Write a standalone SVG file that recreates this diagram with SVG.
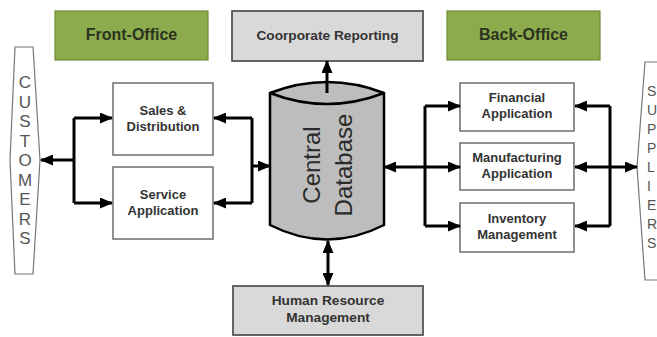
<svg xmlns="http://www.w3.org/2000/svg" width="657" height="337" viewBox="0 0 657 337">
<defs>
<marker id="ah" markerUnits="userSpaceOnUse" markerWidth="13" markerHeight="11" refX="12" refY="5.5" orient="auto-start-reverse" viewBox="0 0 13 11">
<path d="M0,0 L13,5.5 L0,11 z" fill="#000"/>
</marker>
<style>
.lbl{font-family:"Liberation Sans",Arial,sans-serif;font-weight:bold;font-size:13px;fill:#333;text-anchor:middle}
.big{font-size:13.7px}
.hdr{font-family:"Liberation Sans",Arial,sans-serif;font-weight:bold;font-size:16px;fill:#2b3320;text-anchor:middle}
.box{fill:#fff;stroke:#6e6e6e;stroke-width:1.5}
.gbox{fill:#d9d9d9;stroke:#555;stroke-width:1.8}
.green{fill:#8cab4d;stroke:#6f8c38;stroke-width:1.2}
.side{fill:#fff;stroke:#777;stroke-width:1.2}
.vt{font-family:"Liberation Sans",Arial,sans-serif;font-size:17px;fill:#555;text-anchor:middle}
.vs{font-family:"Liberation Sans",Arial,sans-serif;font-size:14px;fill:#555;text-anchor:start}
.con{fill:none;stroke:#000;stroke-width:3}
.db{font-family:"Liberation Sans",Arial,sans-serif;font-size:24px;fill:#2a2a2a;text-anchor:middle}
</style>
</defs>
<rect width="657" height="337" fill="#fff"/>

<g id="front-office">
<rect class="green" x="55" y="11" width="153" height="49"/>
<text class="hdr" x="131.5" y="40">Front-Office</text>
</g>
<g id="back-office">
<rect class="green" x="447" y="11" width="153" height="49"/>
<text class="hdr" x="523.5" y="40">Back-Office</text>
</g>
<g id="corporate-reporting">
<rect class="gbox" x="232" y="11" width="191" height="50"/>
<text class="lbl big" x="327.5" y="40">Coorporate Reporting</text>
</g>
<g id="hrm">
<rect class="gbox" x="233" y="286" width="190" height="49"/>
<text class="lbl big" x="328" y="305">Human Resource</text>
<text class="lbl big" x="328" y="322">Management</text>
</g>

<g id="customers">
<polygon class="side" points="15,47 33,47 40,160 33,274 15,274 10,160"/>
<text class="vt" x="25" y="88">C</text>
<text class="vt" x="25" y="107.5">U</text>
<text class="vt" x="25" y="127">S</text>
<text class="vt" x="25" y="146.5">T</text>
<text class="vt" x="25" y="166">O</text>
<text class="vt" x="25" y="185.5">M</text>
<text class="vt" x="25" y="205">E</text>
<text class="vt" x="25" y="224.5">R</text>
<text class="vt" x="25" y="244">S</text>
</g>

<g id="suppliers">
<polygon class="side" points="645,62 665,62 665,280 645,280 637,167"/>
<text class="vs" x="647" y="96">S</text>
<text class="vs" x="647" y="115">U</text>
<text class="vs" x="647" y="134">P</text>
<text class="vs" x="647" y="153">P</text>
<text class="vs" x="647" y="172">L</text>
<text class="vs" x="647" y="191">I</text>
<text class="vs" x="647" y="210">E</text>
<text class="vs" x="647" y="229">R</text>
<text class="vs" x="647" y="248">S</text>
</g>

<g id="sales">
<rect class="box" x="113" y="83" width="100" height="72"/>
<text class="lbl" x="163" y="115">Sales &amp;</text>
<text class="lbl" x="163" y="131">Distribution</text>
</g>
<g id="service">
<rect class="box" x="113" y="167" width="100" height="72"/>
<text class="lbl" x="163" y="199">Service</text>
<text class="lbl" x="163" y="215">Application</text>
</g>

<g id="financial">
<rect class="box" x="460" y="83" width="114" height="48"/>
<text class="lbl" x="517" y="102">Financial</text>
<text class="lbl" x="517" y="118">Application</text>
</g>
<g id="manufacturing">
<rect class="box" x="460" y="143" width="114" height="47"/>
<text class="lbl" x="517" y="162">Manufacturing</text>
<text class="lbl" x="517" y="178">Application</text>
</g>
<g id="inventory">
<rect class="box" x="460" y="203" width="114" height="49"/>
<text class="lbl" x="517" y="223">Inventory</text>
<text class="lbl" x="517" y="239">Management</text>
</g>

<g id="central-database">
<path d="M270,93 Q327,71 384,93 V225 Q327,254 270,225 Z" fill="#bdbdbd" stroke="#000" stroke-width="2.5"/>
<path d="M270,93 Q327,115 384,93" fill="none" stroke="#000" stroke-width="2.5"/>
<text class="db" transform="translate(320,165) rotate(-90)">Central</text>
<text class="db" transform="translate(352,165) rotate(-90)">Database</text>
</g>

<g id="connectors">
<path class="con" d="M74,160 H41" marker-end="url(#ah)"/>
<path class="con" d="M74,118 V203"/>
<path class="con" d="M74,118 H112" marker-end="url(#ah)"/>
<path class="con" d="M74,203 H112" marker-end="url(#ah)"/>
<path class="con" d="M252,118 V203"/>
<path class="con" d="M252,118 H214" marker-end="url(#ah)"/>
<path class="con" d="M252,203 H214" marker-end="url(#ah)"/>
<path class="con" d="M252,166 H270" marker-end="url(#ah)"/>
<path class="con" d="M327,93 V61" marker-end="url(#ah)"/>
<path class="con" d="M328,241 V285" marker-start="url(#ah)" marker-end="url(#ah)"/>
<path class="con" d="M384,167 H460" marker-start="url(#ah)" marker-end="url(#ah)"/>
<path class="con" d="M425,106 V226"/>
<path class="con" d="M425,106 H460" marker-end="url(#ah)"/>
<path class="con" d="M425,226 H460" marker-end="url(#ah)"/>
<path class="con" d="M610,106 V226"/>
<path class="con" d="M610,106 H575" marker-end="url(#ah)"/>
<path class="con" d="M610,226 H575" marker-end="url(#ah)"/>
<path class="con" d="M575,167 H637" marker-start="url(#ah)" marker-end="url(#ah)"/>
</g>
</svg>
